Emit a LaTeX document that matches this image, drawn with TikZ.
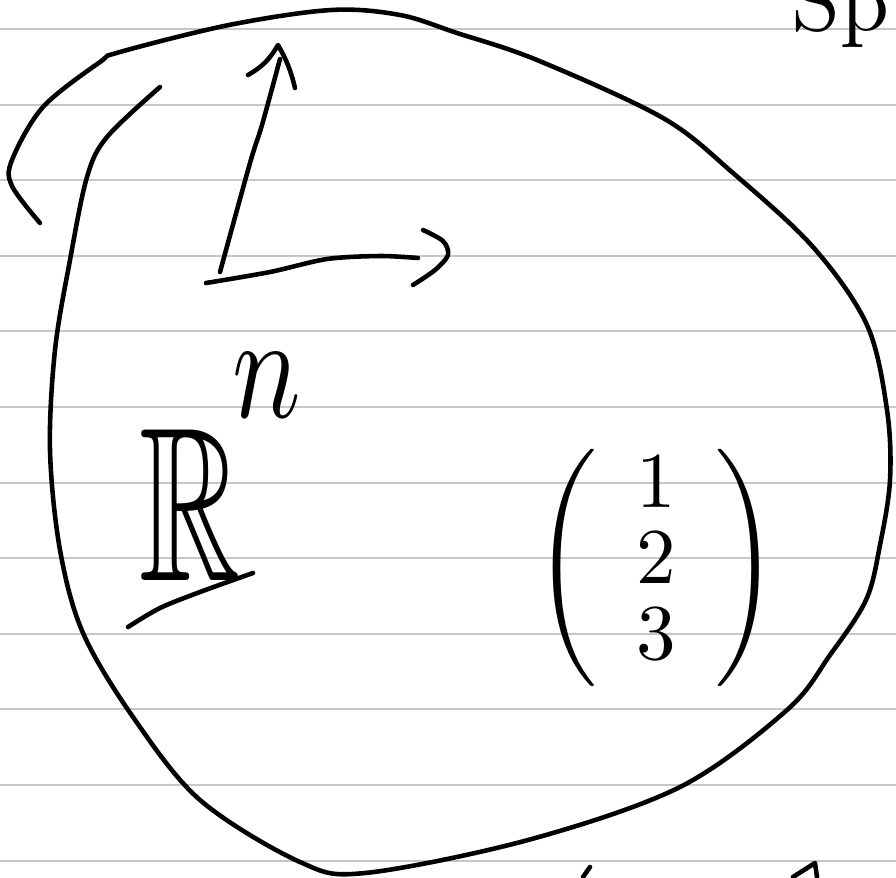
\documentclass[tikz,border=0pt]{standalone}
\usepackage{amsmath,amssymb}
\usetikzlibrary{positioning}

\begin{document}
\begin{tikzpicture}[x=0.02cm,y=-0.02cm,
  ink/.style={line width=2.6pt,line cap=round,line join=round},
  rule/.style={draw=black!22,line width=1.1pt}]
\useasboundingbox (0,0) rectangle (896,877);
\fill[white] (0,0) rectangle (896,877);
% ruled paper
\foreach \k in {0,...,11} \draw[rule] (0,{29+75.6*\k}) -- (896,{29+75.6*\k});
% the set
\draw[ink] plot[smooth,tension=0.55] coordinates {(40,223) (12,186) (12,160) (43,107) (100,62) (120,52)
  (229,25) (331,10) (400,15) (457,33) (537,60) (663,118) (733,173) (813,247) (867,325) (887,410)
  (890,480) (880,545) (866,600) (830,655) (787,710) (680,787) (528,840) (365,873) (300,862)
  (200,800) (133,717) (83,633) (60,550) (50,450) (55,350) (70,260) (87,177) (107,137) (160,87)};
% axes
\draw[ink] plot[smooth] coordinates {(220,272) (250,163) (262,125) (280,59)};
\draw[ink] (248,75) to[bend right=15] (278,45) to[bend left=8] (295,88);
\draw[ink] plot[smooth] coordinates {(206,283) (270,272) (327,259) (380,256) (418,258)};
\draw[ink] plot[smooth] coordinates {(423,230) (443,241) (448,255) (435,270) (413,285)};
% R^n
\node[xscale=8,yscale=12.5,inner sep=0,anchor=base] (R) at (190,580) {$\mathbb{R}$};
\node[xscale=6.5,yscale=8.5,inner sep=0,anchor=south west] (n) at (230,420) {$n$};
\draw[ink] plot[smooth] coordinates {(128,627) (160,608) (200,592) (253,573)};
% vector
\node[scale=4.5,inner sep=0] (vec) at (656,568)
  {\renewcommand{\arraystretch}{0.8}$\left(\begin{array}{@{\hspace{5pt}}c@{\hspace{5pt}}}1\\2\\3\end{array}\right)$};
% cut-off words
\node[scale=5,inner sep=0,anchor=base west] (sp) at (790,30) {Sp};
\draw[ink] (583,877) -- (590,867);
\draw[ink] (793,877) -- (815,863) -- (817,877);
\end{tikzpicture}
\end{document}
